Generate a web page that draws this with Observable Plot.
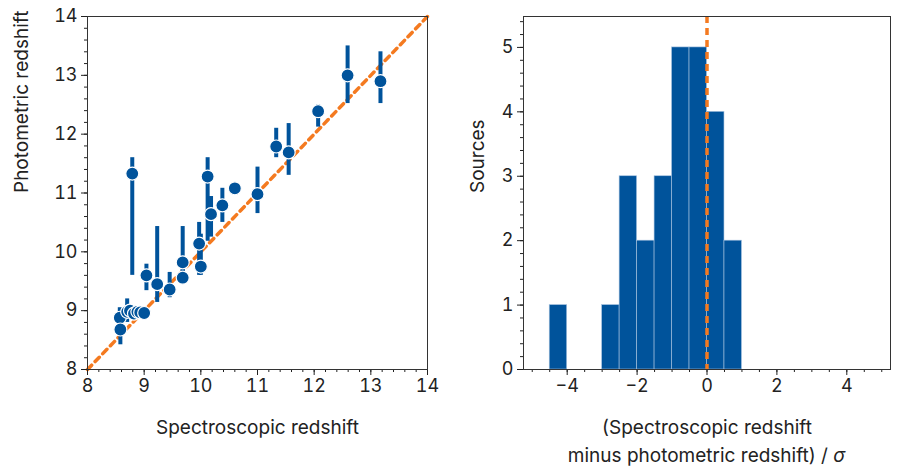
<!DOCTYPE html>
<html><head><meta charset="utf-8">
<script src="https://cdn.jsdelivr.net/npm/d3@7"></script>
<script src="https://cdn.jsdelivr.net/npm/@observablehq/plot@0.6"></script>
<style>
body{margin:0;background:#fff;font-family:Inter,"Noto Sans",sans-serif}
#l{position:absolute;left:0;top:0}
#r{position:absolute;left:457px;top:0}
</style></head><body>
<div id="l"></div><div id="r"></div>
<script>
const specZ = [8.79,9.04,9.23,9.45,9.68,9.68,9.97,10.0,10.12,10.18,10.38,10.6,11.0,11.33,11.55,12.07,12.59,13.17,8.57,8.58,8.7,8.75,8.82,8.88,8.93,9.0];
const photZ = [11.33,9.6,9.45,9.36,9.56,9.82,10.14,9.75,11.28,10.64,10.79,11.08,10.98,11.79,11.69,12.39,13.0,12.9,8.88,8.68,8.98,9.0,8.95,8.98,8.97,8.96];
const errLo = [9.6,9.34,9.14,9.22,9.46,9.46,9.6,9.6,10.18,10.25,10.5,11.0,10.65,11.6,11.3,12.12,12.52,12.52,8.7,8.42,8.8,8.85,8.85,8.9,8.9,8.9];
const errHi = [11.6,9.79,10.43,9.65,9.7,10.43,10.5,10.3,11.6,10.94,11.08,11.15,11.44,12.1,12.18,12.5,13.5,13.4,9.05,8.85,9.2,9.1,9.05,9.05,9.05,9.02];
const binLo = [-4.5,-3,-2.5,-2,-1.5,-1,-0.5,0,0.5];
const binCount = [1,1,3,2,3,5,5,4,2];
const blue = "#00539b", orange = "#f47a20";
const none = () => "";
const intf = d => d<0 ? "\u2212"+(-d) : String(d);
const pts = specZ.map((x,i)=>({x,y:photZ[i],lo:errLo[i],hi:errHi[i]}));
const minorL = d3.range(8,14.01,0.2);
const left = Plot.plot({
  width:450,height:450,marginLeft:87,marginRight:23,marginTop:16,marginBottom:81,
  style:{fontSize:"18px",fontFamily:"Inter, Noto Sans, sans-serif",color:"#222"},
  x:{domain:[8,14],label:null},
  y:{domain:[8,14],label:null},
  marks:[
    Plot.line([8,14],{x:d=>d,y:d=>d,stroke:orange,strokeWidth:3.5,strokeDasharray:"6,5"}),
    Plot.ruleX(pts,{x:"x",y1:"lo",y2:"hi",stroke:blue,strokeWidth:4}),
    Plot.dot(pts,{x:"x",y:"y",r:6.5,fill:blue,stroke:"white",strokeWidth:1.2}),
    Plot.axisX({ticks:minorL,tickSize:3,tickFormat:none,label:null}),
    Plot.axisY({ticks:minorL,tickSize:3,tickFormat:none,label:null}),
    Plot.axisX({ticks:d3.range(8,15),tickSize:6,tickPadding:4,tickFormat:intf,label:null}),
    Plot.axisY({ticks:d3.range(8,15),tickSize:6,tickPadding:4,tickFormat:intf,label:null}),
    Plot.frame({stroke:"#333"}),
    Plot.text(["Spectroscopic redshift"],{frameAnchor:"bottom",dy:64,fontSize:19,fill:"#222"}),
    Plot.text(["Photometric redshift"],{frameAnchor:"left",dx:-66,rotate:-90,fontSize:19,fill:"#222"})
  ]
});
document.getElementById("l").append(left);
const bins = binLo.map((b,i)=>({x1:b,x2:b+0.5,c:binCount[i]}));
const right = Plot.plot({
  width:440,height:450,marginLeft:66,marginRight:7,marginTop:16,marginBottom:81,
  style:{fontSize:"18px",fontFamily:"Inter, Noto Sans, sans-serif",color:"#222"},
  x:{domain:[-5.25,5.25],label:null},
  y:{domain:[0,5.48],label:null},
  marks:[
    Plot.rectY(bins,{x1:"x1",x2:"x2",y:"c",fill:blue,stroke:"#a9c4e0",strokeWidth:0.6}),
    Plot.ruleX([0],{stroke:orange,strokeWidth:3.5,strokeDasharray:"7,5"}),
    Plot.axisX({ticks:d3.range(-5,5.01,0.5),tickSize:3,tickFormat:none,label:null}),
    Plot.axisY({ticks:d3.range(0,5.41,0.2),tickSize:3,tickFormat:none,label:null}),
    Plot.axisX({ticks:[-4,-2,0,2,4],tickSize:6,tickPadding:4,tickFormat:intf,label:null}),
    Plot.axisY({ticks:[0,1,2,3,4,5],tickSize:6,tickPadding:4,tickFormat:intf,label:null}),
    Plot.frame({stroke:"#333"}),
    Plot.text(["(Spectroscopic redshift"],{frameAnchor:"bottom",dy:64,fontSize:19,fill:"#222"}),
    Plot.text(["Sources"],{frameAnchor:"left",dx:-46,rotate:-90,fontSize:19,fill:"#222"})
  ]
});
const svg = d3.select(right);
const cx = 66 + (440-66-7)/2;
const t = svg.append("text").attr("x",cx).attr("y",462).attr("text-anchor","middle")
  .attr("font-size",19).attr("fill","#222").attr("font-family","Inter, Noto Sans, sans-serif");
t.append("tspan").text("minus photometric redshift) / ");
t.append("tspan").attr("font-style","italic").text("σ");
svg.attr("height",470).attr("viewBox","0 0 440 470");
document.getElementById("r").append(right);
</script></body></html>
